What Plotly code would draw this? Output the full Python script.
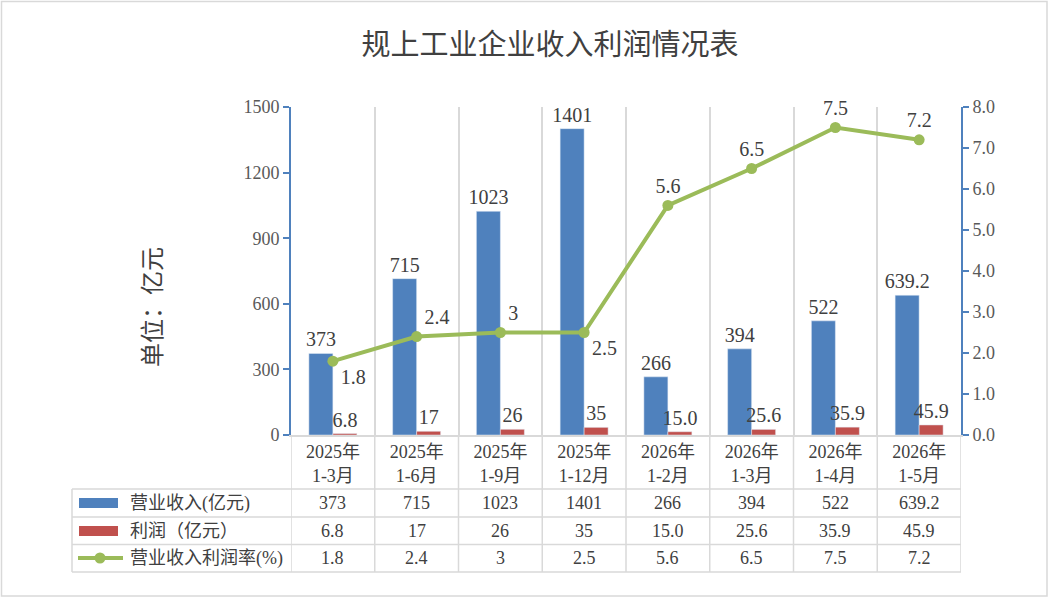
import plotly.graph_objects as go

# 数据
periods = ["2025年<br>1-3月", "2025年<br>1-6月", "2025年<br>1-9月", "2025年<br>1-12月",
           "2026年<br>1-2月", "2026年<br>1-3月", "2026年<br>1-4月", "2026年<br>1-5月"]
revenue = [373, 715, 1023, 1401, 266, 394, 522, 639.2]
revenue_text = ["373", "715", "1023", "1401", "266", "394", "522", "639.2"]
profit = [6.8, 17, 26, 35, 15.0, 25.6, 35.9, 45.9]
profit_text = ["6.8", "17", "26", "35", "15.0", "25.6", "35.9", "45.9"]
rate = [1.8, 2.4, 2.5, 2.5, 5.6, 6.5, 7.5, 7.2]
rate_text = ["1.8", "2.4", "3", "2.5", "5.6", "6.5", "7.5", "7.2"]
row_names = ["营业收入(亿元)", "利润（亿元）", "营业收入利润率(%)"]

BLUE = "#4F81BD"
RED = "#C0504D"
GREEN = "#9BBB59"
GRID = "#D9D9D9"
TXT = "#404040"
FONT = "Liberation Serif, Noto Sans CJK SC"

W, H = 1049, 599
L, R, T, B = 291, 961, 107, 435  # 绘图区像素范围


def px(x):
    return (x - L) / (R - L)


def py(y):
    return (B - y) / (B - T)


fig = go.Figure()

fig.add_trace(go.Bar(
    x=periods, y=revenue, name=row_names[0], marker_color=BLUE,
    text=revenue_text, textposition="outside", cliponaxis=False,
    constraintext="none", textfont=dict(size=20, color=TXT, family=FONT),
))
fig.add_trace(go.Bar(
    x=periods, y=profit, name=row_names[1], marker_color=RED,
    text=profit_text, textposition="outside", cliponaxis=False,
    constraintext="none", textfont=dict(size=20, color=TXT, family=FONT),
))
fig.add_trace(go.Scatter(
    x=periods, y=rate, name=row_names[2], yaxis="y2", mode="lines+markers+text",
    line=dict(color=GREEN, width=4), marker=dict(color=GREEN, size=11),
    text=rate_text, cliponaxis=False,
    textposition=["bottom right", "top right", "top right", "bottom right",
                  "top center", "top center", "top center", "top center"],
    textfont=dict(size=20, color=TXT, family=FONT),
))

shapes = []
annotations = []
line_style = dict(color=GRID, width=1.5)

# 外框
shapes.append(dict(type="rect", xref="paper", yref="paper",
                   x0=px(1.5), x1=px(1047), y0=py(1.5), y1=py(596),
                   line=dict(color=GRID, width=1.5), layer="below"))

# 数据表格线
n = len(periods)
for k in range(n + 1):
    shapes.append(dict(type="line", xref="x", yref="paper", x0=k - 0.5, x1=k - 0.5,
                       y0=py(435), y1=py(572), line=line_style))
row_lines = [489, 517, 544.5, 572]
for yy in row_lines:
    shapes.append(dict(type="line", xref="paper", yref="paper", x0=px(72), x1=1,
                       y0=py(yy), y1=py(yy), line=line_style))
shapes.append(dict(type="line", xref="paper", yref="paper", x0=px(72), x1=px(72),
                   y0=py(489), y1=py(572), line=line_style))

# 表格数值
row_centers = [503, 530.5, 558]
for vals, yc in zip([revenue_text, profit_text, rate_text], row_centers):
    for cat, v in zip(periods, vals):
        annotations.append(dict(x=cat, xref="x", y=py(yc), yref="paper", text=v,
                                showarrow=False, yanchor="middle",
                                font=dict(size=18, color=TXT, family=FONT)))

# 图例键
shapes.append(dict(type="rect", xref="paper", yref="paper", x0=px(79), x1=px(118),
                   y0=py(498), y1=py(508), fillcolor=BLUE, line=dict(width=0)))
shapes.append(dict(type="rect", xref="paper", yref="paper", x0=px(79), x1=px(118),
                   y0=py(526), y1=py(536), fillcolor=RED, line=dict(width=0)))
shapes.append(dict(type="line", xref="paper", yref="paper", x0=px(78), x1=px(123),
                   y0=py(558), y1=py(558), line=dict(color=GREEN, width=4)))
shapes.append(dict(type="circle", xref="paper", yref="paper", x0=px(94.5), x1=px(105.5),
                   y0=py(552.5), y1=py(563.5), fillcolor=GREEN, line=dict(width=0)))
for name, yc in zip(row_names, row_centers):
    annotations.append(dict(x=px(128), xref="paper", y=py(yc), yref="paper", text=name,
                            showarrow=False, xanchor="left", yanchor="middle",
                            font=dict(size=18, color=TXT, family=FONT)))

# 纵轴标题
annotations.append(dict(x=px(138), xref="paper", y=py(307), yref="paper", text="单位：亿元",
                        showarrow=False, textangle=-90,
                        font=dict(size=24, color=TXT, family=FONT)))

fig.update_layout(
    width=W, height=H,
    margin=dict(l=L, r=W - R, t=T, b=H - B),
    paper_bgcolor="white", plot_bgcolor="white",
    title=dict(text="规上工业企业收入利润情况表", x=550 / W, xanchor="center",
               y=1 - 45 / H, yanchor="middle",
               font=dict(size=29, color=TXT, family=FONT)),
    barmode="group", bargap=0.427, bargroupgap=0,
    showlegend=False,
    xaxis=dict(type="category", tickson="boundaries", showgrid=True, gridcolor=GRID,
               gridwidth=1.5, showline=True, linecolor=GRID, linewidth=1.5,
               ticks="", tickfont=dict(size=18, color=TXT, family=FONT),
               range=[-0.5, n - 0.5]),
    yaxis=dict(range=[0, 1500], tickvals=[0, 300, 600, 900, 1200, 1500], showgrid=False,
               showline=True, linecolor=BLUE, linewidth=2, ticks="outside",
               tickcolor=BLUE, ticklen=6, tickwidth=2, zeroline=False,
               tickfont=dict(size=18, color="#595959", family=FONT)),
    yaxis2=dict(range=[0, 8], overlaying="y", side="right", dtick=1, tickformat=".1f",
                showgrid=False, showline=True, linecolor=BLUE, linewidth=2,
                ticks="outside", tickcolor=BLUE, ticklen=6, tickwidth=2, zeroline=False,
                tickfont=dict(size=18, color="#595959", family=FONT)),
    shapes=shapes,
    annotations=annotations,
)

fig.write_html("out.html", config={"displayModeBar": False},
               post_script="document.body.style.margin='0';")
